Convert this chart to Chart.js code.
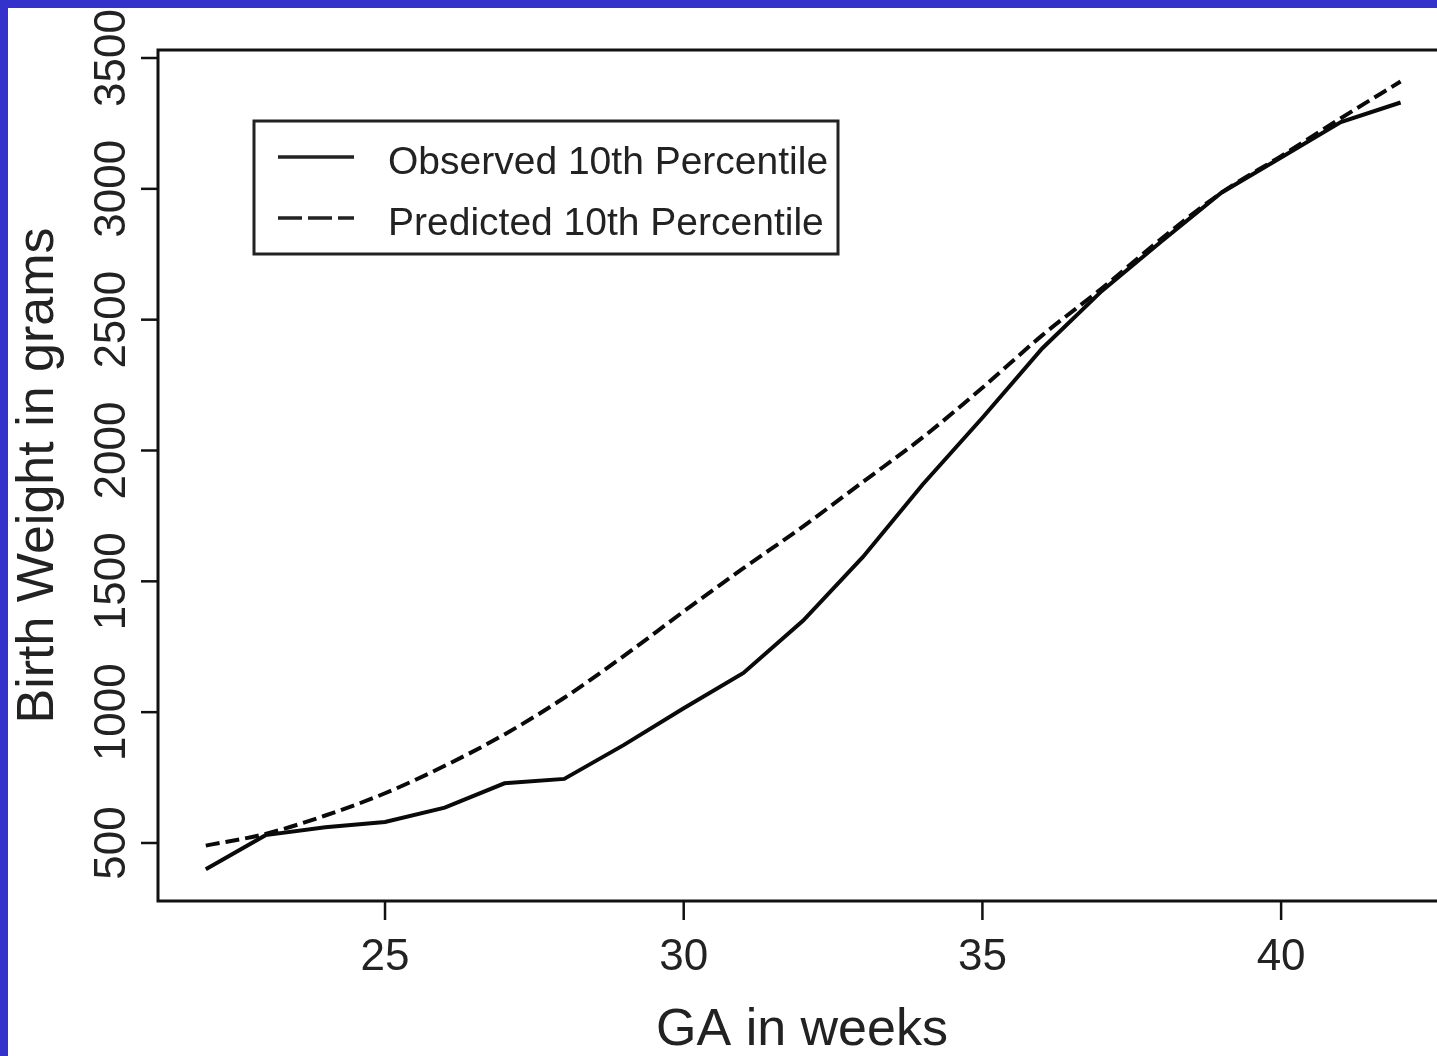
<!DOCTYPE html>
<html>
<head>
<meta charset="utf-8">
<script src="https://cdn.jsdelivr.net/npm/chart.js@4"></script>
<style>
  html, body { margin: 0; padding: 0; background: #3333cc; overflow: hidden; }
  #frame { position: absolute; left: 8px; top: 8px; width: 1429px; height: 1048px; overflow: hidden; background: #fff; }
  #holder { position: absolute; left: 0; top: 0; width: 1460px; height: 1048px; }
</style>
</head>
<body>
<div id="frame"><div id="holder"><canvas id="bwChart"></canvas></div></div>
<script>
// gestational age (weeks) and 10th percentile birth weight (grams)
const weeks = [22, 23, 24, 25, 26, 27, 28, 29, 30, 31, 32, 33, 34, 35, 36, 37, 38, 39, 40, 41, 42];
const observed = [400, 530, 560, 580, 635, 728, 745, 875, 1015, 1150, 1350, 1593, 1870, 2125, 2390, 2610, 2800, 2985, 3120, 3255, 3330];
const predicted = [490, 535, 605, 690, 795, 915, 1055, 1215, 1385, 1550, 1710, 1880, 2050, 2240, 2440, 2620, 2810, 2985, 3125, 3270, 3410];
const xTicks = [25, 30, 35, 40];
const yTicks = [500, 1000, 1500, 2000, 2500, 3000, 3500];
const seriesNames = ["Observed 10th Percentile", "Predicted 10th Percentile"];

const FONT = '"Liberation Sans", Arial, sans-serif';

const rPlotPlugin = {
    id: "rPlot",
    afterDraw(chart) {
        const ctx = chart.ctx;
        const area = chart.chartArea;
        const xs = chart.scales.x;
        const ys = chart.scales.y;
        ctx.save();

        // plot box
        ctx.strokeStyle = "#111";
        ctx.lineWidth = 3;
        ctx.strokeRect(area.left, area.top, area.right - area.left, area.bottom - area.top);

        // x ticks + labels
        ctx.fillStyle = "#222";
        ctx.font = "44px " + FONT;
        ctx.textAlign = "center";
        ctx.textBaseline = "alphabetic";
        ctx.lineWidth = 2.5;
        xTicks.forEach(v => {
            const px = xs.getPixelForValue(v);
            ctx.beginPath();
            ctx.moveTo(px, area.bottom);
            ctx.lineTo(px, area.bottom + 19);
            ctx.stroke();
            ctx.fillText(String(v), px, 962);
        });

        // y ticks + rotated labels
        yTicks.forEach(v => {
            const py = ys.getPixelForValue(v);
            ctx.beginPath();
            ctx.moveTo(area.left, py);
            ctx.lineTo(area.left - 17, py);
            ctx.stroke();
            ctx.save();
            ctx.translate(117, py);
            ctx.rotate(-Math.PI / 2);
            ctx.fillText(String(v), 0, 0);
            ctx.restore();
        });

        // axis titles
        ctx.font = "52px " + FONT;
        ctx.fillText("GA in weeks", 794, 1037);
        ctx.save();
        ctx.translate(45, (area.top + area.bottom) / 2);
        ctx.rotate(-Math.PI / 2);
        ctx.fillText("Birth Weight in grams", 0, 0);
        ctx.restore();

        // legend
        const lx = 246, ly = 113, lw = 584, lh = 133;
        ctx.lineWidth = 3;
        ctx.strokeStyle = "#222";
        ctx.strokeRect(lx, ly, lw, lh);
        ctx.font = "39px " + FONT;
        ctx.textAlign = "left";
        chart.data.datasets.forEach((ds, i) => {
            const yy = ly + 36 + i * 61;
            ctx.beginPath();
            ctx.setLineDash(ds.borderDash && ds.borderDash.length ? [24, 6] : []);
            ctx.lineWidth = 3.5;
            ctx.strokeStyle = "#222";
            ctx.moveTo(270, yy);
            ctx.lineTo(346, yy);
            ctx.stroke();
            ctx.setLineDash([]);
            ctx.fillText(ds.label, 380, yy + 17);
        });
        ctx.restore();
    }
};

const ctx = document.getElementById("bwChart").getContext("2d");
new Chart(ctx, {
    type: "line",
    data: {
        datasets: [
            {
                label: seriesNames[0],
                data: weeks.map((w, i) => ({ x: w, y: observed[i] })),
                borderColor: "#0a0a0a",
                borderWidth: 4,
                pointRadius: 0,
                tension: 0,
                fill: false
            },
            {
                label: seriesNames[1],
                data: weeks.map((w, i) => ({ x: w, y: predicted[i] })),
                borderColor: "#0a0a0a",
                borderWidth: 4,
                borderDash: [14, 6],
                pointRadius: 0,
                cubicInterpolationMode: "monotone",
                fill: false
            }
        ]
    },
    options: {
        responsive: true,
        maintainAspectRatio: false,
        animation: false,
        layout: { padding: { left: 150, top: 42, right: 22, bottom: 155 } },
        plugins: { legend: { display: false }, tooltip: { enabled: false } },
        scales: {
            x: { type: "linear", min: 21.2, max: 42.76, display: false },
            y: { type: "linear", min: 278.3, max: 3530.6, display: false }
        }
    },
    plugins: [rPlotPlugin]
});
</script>
</body>
</html>
